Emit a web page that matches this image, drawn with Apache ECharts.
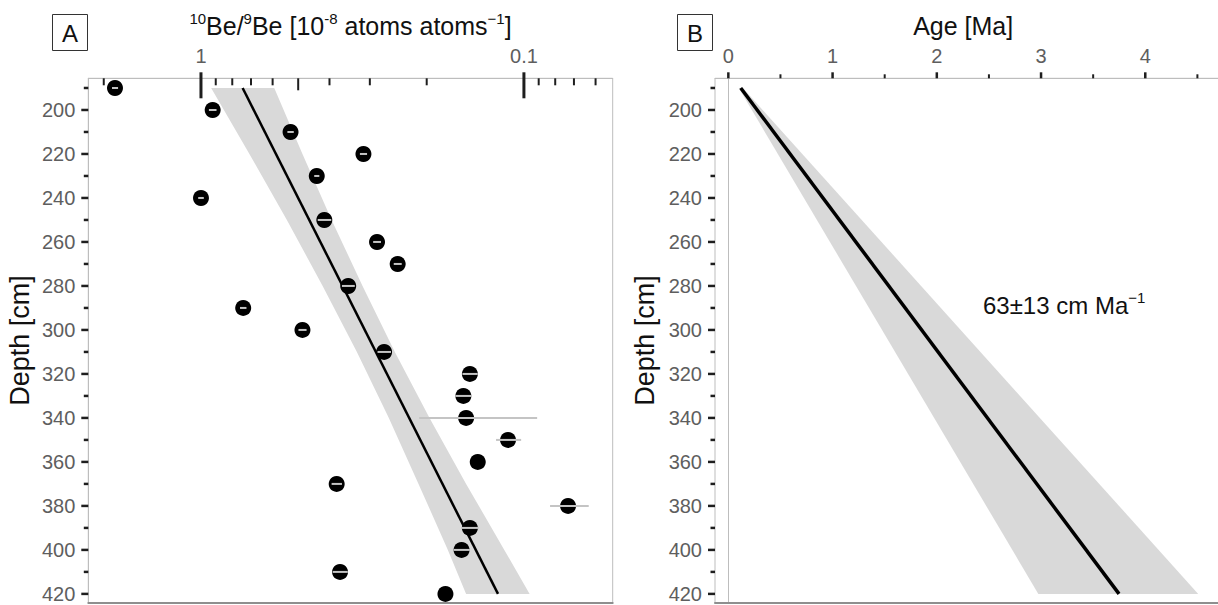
<!DOCTYPE html>
<html>
<head>
<meta charset="utf-8">
<script src="https://cdn.jsdelivr.net/npm/echarts@6/dist/echarts.min.js"></script>
<style>
  html, body { margin: 0; padding: 0; background: #ffffff; }
  #chart { width: 1218px; height: 605px; }
</style>
</head>
<body>
<div id="chart"></div>
<script>
// ---- Panel A: 10Be/9Be ratio against sample depth ----
const sampleDepth = [190, 200, 210, 220, 230, 240, 250, 260, 270, 280, 290, 300,
                     310, 320, 330, 340, 350, 360, 370, 380, 390, 400, 410, 420];
const beRatio = [1.846, 0.920, 0.528, 0.314, 0.438, 1.000, 0.415, 0.285, 0.246, 0.350, 0.740, 0.485,
                 0.271, 0.147, 0.154, 0.151, 0.112, 0.139, 0.380, 0.073, 0.147, 0.156, 0.371, 0.175];
const beSigma = [0.040, 0.025, 0.012, 0.008, 0.008, 0.020, 0.020, 0.008, 0.007, 0.016, 0.017, 0.014,
                 0.013, 0.008, 0.009, 0.060, 0.010, 0.000, 0.014, 0.010, 0.009, 0.009, 0.020, 0.000];

// exponential decay fit
const fitDepthA = [190, 420];
const fitRatio = [0.743, 0.1203];
// confidence band of the fit
const bandDepthA = [190, 220, 250, 280, 310, 340, 370, 400, 420];
const bandRatioHigh = [0.930, 0.708, 0.542, 0.420, 0.329, 0.262, 0.212, 0.172, 0.151];
const bandRatioLow = [0.593, 0.485, 0.394, 0.316, 0.251, 0.196, 0.151, 0.115, 0.096];

// ---- Panel B: age-depth model ----
const fitDepthB = [190, 420];
const fitAge = [0.119, 3.748];
const fitAgeLow = [0.100, 2.974];
const fitAgeHigh = [0.140, 4.508];
const rateText = '63±13 cm Ma{s|−1}';

// ---- axis ticks ----
const depthTicks = [200, 220, 240, 260, 280, 300, 320, 340, 360, 380, 400, 420];
const depthMinorTicks = [190, 210, 230, 250, 270, 290, 310, 330, 350, 370, 390, 410];
const ratioMajorTicks = [1, 0.1];
const ratioMidTicks = [0.5];
const ratioMinorTicks = [2, 0.9, 0.8, 0.7, 0.6, 0.4, 0.3, 0.2, 0.09, 0.08, 0.07, 0.06];
const ageTicks = [0, 1, 2, 3, 4];
const ageMinorTicks = [0.5, 1.5, 2.5, 3.5, 4.5];

// axis extents
const depthMin = 185.6, depthMax = 424;
const ratioMin = 0.0531, ratioMax = 2.233;
const ageMin = -0.128, ageMax = 4.903;

const FONT = '"Liberation Sans", Arial, sans-serif';
const LABEL = { color: '#5e5e5e', fontSize: 20, fontFamily: FONT };
const FRAME = '#bdbdbd';
const SUP = { fontSize: 15, fontFamily: FONT, color: '#111', verticalAlign: 'top', lineHeight: 16 };

const chart = echarts.init(document.getElementById('chart'), null,
  { renderer: 'svg', width: 1218, height: 605 });

// short tick marks drawn against an axis edge
function tickSeries(xi, yi, points, horizontal, from, to, width) {
  return {
    type: 'custom', xAxisIndex: xi, yAxisIndex: yi, clip: false, silent: true, z: 10,
    data: points,
    renderItem(params, api) {
      const p = api.coord([api.value(0), api.value(1)]);
      const shape = horizontal
        ? { x1: p[0] + from, y1: p[1], x2: p[0] + to, y2: p[1] }
        : { x1: p[0], y1: p[1] + from, x2: p[0], y2: p[1] + to };
      return { type: 'line', shape, style: { stroke: '#1e1e1e', lineWidth: width } };
    }
  };
}

// filled band between two edges along depth
function bandSeries(xi, yi, depths, lowEdge, highEdge) {
  return {
    type: 'custom', xAxisIndex: xi, yAxisIndex: yi, silent: true, z: 1,
    data: depths.map((d, i) => [lowEdge[i], d]),
    renderItem(params, api) {
      if (params.dataIndex !== 0) return null;
      const pts = [];
      depths.forEach((d, i) => pts.push(api.coord([lowEdge[i], d])));
      for (let i = depths.length - 1; i >= 0; i--) pts.push(api.coord([highEdge[i], depths[i]]));
      return { type: 'polygon', shape: { points: pts }, style: { fill: '#d9d9d9' } };
    }
  };
}

function bottomLine(gridIndex) {
  return {
    gridIndex, type: 'value', position: 'bottom', min: 0, max: 1,
    axisLine: { show: true, lineStyle: { color: '#8e8e8e', width: 2 } },
    axisTick: { show: false }, axisLabel: { show: false }, splitLine: { show: false }
  };
}

function depthAxis(gridIndex, gap) {
  return {
    gridIndex, type: 'value', inverse: true, min: depthMin, max: depthMax,
    name: 'Depth [cm]', nameLocation: 'middle', nameGap: gap,
    nameTextStyle: { fontSize: 27, color: '#111', fontFamily: FONT },
    axisLine: { show: true, lineStyle: { color: FRAME, width: 1 } },
    axisTick: { show: false }, splitLine: { show: false },
    axisLabel: Object.assign({ margin: 13, customValues: depthTicks }, LABEL)
  };
}

const option = {
  backgroundColor: '#ffffff',
  animation: false,
  grid: [
    { left: 88.3, top: 78.3, width: 524.4, height: 524.4, outerBoundsMode: 'none',
      show: true, borderColor: FRAME, borderWidth: 1 },
    { left: 715, top: 78.3, width: 524.4, height: 524.4, outerBoundsMode: 'none',
      show: true, borderColor: FRAME, borderWidth: 1 }
  ],
  xAxis: [
    {
      gridIndex: 0, type: 'log', logBase: 10, position: 'top', inverse: true,
      min: ratioMin, max: ratioMax,
      name: '{s|10}Be/{s|9}Be [10{s|-8} atoms atoms{s|−1}]',
      nameLocation: 'middle', nameGap: 30,
      nameTextStyle: { fontSize: 25, color: '#111', fontFamily: FONT, lineHeight: 30, rich: { s: SUP } },
      axisLine: { show: true, lineStyle: { color: FRAME, width: 1 } },
      axisTick: { show: false }, splitLine: { show: false }, minorTick: { show: false },
      axisLabel: Object.assign({
        margin: 12,
        formatter: v => {
          const l = Math.log10(v);
          return Math.abs(l - Math.round(l)) < 1e-6 ? String(+v.toPrecision(6)) : '';
        }
      }, LABEL)
    },
    bottomLine(0),
    {
      gridIndex: 1, type: 'value', position: 'top', min: ageMin, max: ageMax,
      name: 'Age [Ma]', nameLocation: 'middle', nameGap: 30,
      nameTextStyle: { fontSize: 25, color: '#111', fontFamily: FONT, lineHeight: 30, padding: [0, 28, 0, 0] },
      axisLine: { show: true, lineStyle: { color: FRAME, width: 1 } },
      axisTick: { show: false }, splitLine: { show: false },
      axisLabel: Object.assign({ margin: 12, customValues: ageTicks }, LABEL)
    },
    bottomLine(1)
  ],
  yAxis: [depthAxis(0, 55), depthAxis(1, 57)],
  graphic: [
    { type: 'rect', shape: { x: 52.5, y: 14.5, width: 35, height: 36 }, style: { fill: '#fff', stroke: '#333', lineWidth: 1 } },
    { type: 'text', style: { x: 70, y: 33, text: 'A', align: 'center', verticalAlign: 'middle', font: '24px ' + FONT, fill: '#111' } },
    { type: 'rect', shape: { x: 677.5, y: 14.5, width: 35, height: 36 }, style: { fill: '#fff', stroke: '#333', lineWidth: 1 } },
    { type: 'text', style: { x: 695, y: 33, text: 'B', align: 'center', verticalAlign: 'middle', font: '24px ' + FONT, fill: '#111' } },
    { type: 'text', style: { x: 983, y: 305, text: rateText, align: 'left', verticalAlign: 'middle',
        font: '24px ' + FONT, fill: '#111', lineHeight: 30, rich: { s: SUP } } }
  ],
  series: [
    // panel A
    bandSeries(0, 0, bandDepthA, bandRatioHigh, bandRatioLow),
    {
      type: 'line', xAxisIndex: 0, yAxisIndex: 0, z: 2, silent: true,
      data: fitDepthA.map((d, i) => [fitRatio[i], d]),
      showSymbol: false, lineStyle: { color: '#000', width: 2.5 }
    },
    {
      type: 'scatter', xAxisIndex: 0, yAxisIndex: 0, z: 3, silent: true,
      data: sampleDepth.map((d, i) => [beRatio[i], d]),
      symbol: 'circle', symbolSize: 16, itemStyle: { color: '#000', opacity: 1 }
    },
    {
      type: 'custom', xAxisIndex: 0, yAxisIndex: 0, z: 4, silent: true,
      data: sampleDepth.map((d, i) => [beRatio[i] + beSigma[i], beRatio[i] - beSigma[i], d]),
      encode: { x: [0, 1], y: 2 },
      renderItem(params, api) {
        if (api.value(0) === api.value(1)) return null;
        const a = api.coord([api.value(0), api.value(2)]);
        const b = api.coord([api.value(1), api.value(2)]);
        return { type: 'line', shape: { x1: a[0], y1: a[1], x2: b[0], y2: b[1] },
                 style: { stroke: '#c4c4c4', lineWidth: 2 } };
      }
    },
    // panel B
    bandSeries(2, 1, fitDepthB, fitAgeLow, fitAgeHigh),
    {
      type: 'line', xAxisIndex: 2, yAxisIndex: 1, z: 2, silent: true,
      data: fitDepthB.map((d, i) => [fitAge[i], d]),
      showSymbol: false, lineStyle: { color: '#000', width: 3.5 }
    },
    // tick marks
    tickSeries(0, 0, ratioMajorTicks.map(v => [v, depthMin]), false, -6, 20, 3),
    tickSeries(0, 0, ratioMidTicks.map(v => [v, depthMin]), false, 0, 12, 2),
    tickSeries(0, 0, ratioMinorTicks.map(v => [v, depthMin]), false, 0, 7, 2),
    tickSeries(0, 0, depthTicks.map(d => [ratioMax, d]), true, -7, 0, 2.5),
    tickSeries(0, 0, depthMinorTicks.map(d => [ratioMax, d]), true, -4.5, 0, 2.5),
    tickSeries(2, 1, ageTicks.map(v => [v, depthMin]), false, -6, 0, 2.5),
    tickSeries(2, 1, ageMinorTicks.map(v => [v, depthMin]), false, -4, 0, 2),
    tickSeries(2, 1, depthTicks.map(d => [ageMin, d]), true, -7, 0, 2.5),
    tickSeries(2, 1, depthMinorTicks.map(d => [ageMin, d]), true, -4.5, 0, 2.5)
  ]
};

chart.setOption(option);
</script>
</body>
</html>
